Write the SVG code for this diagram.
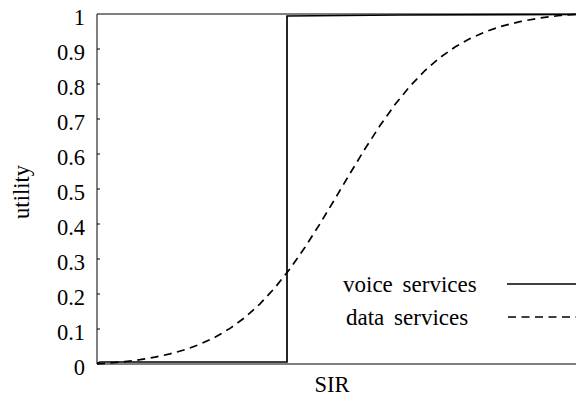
<svg xmlns="http://www.w3.org/2000/svg" width="576" height="402" viewBox="0 0 576 402" font-family="'Liberation Serif', Tinos, 'Times New Roman', serif">
  <style>
    text { font-family: "Liberation Serif", Tinos, "Times New Roman", serif; font-size: 22.5px; fill: #000; }
    .tick-label { text-anchor: end; }
    .legend-label { font-size: 23px; word-spacing: 4px; }
    .axis { stroke: #000; stroke-width: 1; fill: none; }
    .voice { stroke: #000; stroke-width: 1.7; fill: none; }
    .data { stroke: #000; stroke-width: 1.7; fill: none; stroke-dasharray: 8 5.5; }
  </style>
  <rect width="576" height="402" fill="#fff"/>

  <!-- axes frame -->
  <g id="axes">
    <path class="axis" d="M97,14 H576 M97,14 V364 H576"/>
    <path class="axis" d="M97,49 h3 M97,84 h3 M97,119 h3 M97,154 h3 M97,189 h3 M97,224 h3 M97,259 h3 M97,294 h3 M97,329 h3"/>
  </g>

  <!-- y-axis tick labels -->
  <g id="y-ticks">
    <text class="tick-label" x="85" y="24.5">1</text>
    <text class="tick-label" x="85" y="59.5">0.9</text>
    <text class="tick-label" x="85" y="94.5">0.8</text>
    <text class="tick-label" x="85" y="129.5">0.7</text>
    <text class="tick-label" x="85" y="164.5">0.6</text>
    <text class="tick-label" x="85" y="199.5">0.5</text>
    <text class="tick-label" x="85" y="234.5">0.4</text>
    <text class="tick-label" x="85" y="269.5">0.3</text>
    <text class="tick-label" x="85" y="304.5">0.2</text>
    <text class="tick-label" x="85" y="339.5">0.1</text>
    <text class="tick-label" x="85" y="374.5">0</text>
  </g>

  <!-- axis titles -->
  <text id="y-title" x="0" y="0" text-anchor="middle" transform="translate(29,192) rotate(-90)">utility</text>
  <text id="x-title" x="332" y="392" text-anchor="middle">SIR</text>

  <!-- utility curves -->
  <g id="curves">
    <path id="voice-curve" class="voice" d="M97,363.5 L100,362 L287,362 L287,16 L400,15 L576,14.5"/>
    <polyline id="data-curve" class="data" points="97,364 110,363 125,361.6 140,359.7 155,357.2 170,353.9 185,349.7 200,344.2 215,337.3 230,328.4 245,317.4 260,303.9 275,287.7 290,268.8 305,247.2 320,223.7 335,198.8 350,173.5 365,148.8 380,125.6 395,104.5 410,86.2 425,70.5 440,57.5 455,47 470,38.6 485,31.9 500,26.7 520,21.6 540,18 560,15.5 576,14.3"/>
  </g>

  <!-- legend -->
  <g id="legend">
    <text class="legend-label" x="343" y="292">voice services</text>
    <line class="voice" x1="507" y1="284" x2="576" y2="284"/>
    <text class="legend-label" x="346" y="325">data services</text>
    <line class="data" x1="508" y1="317" x2="576" y2="317"/>
  </g>
</svg>
